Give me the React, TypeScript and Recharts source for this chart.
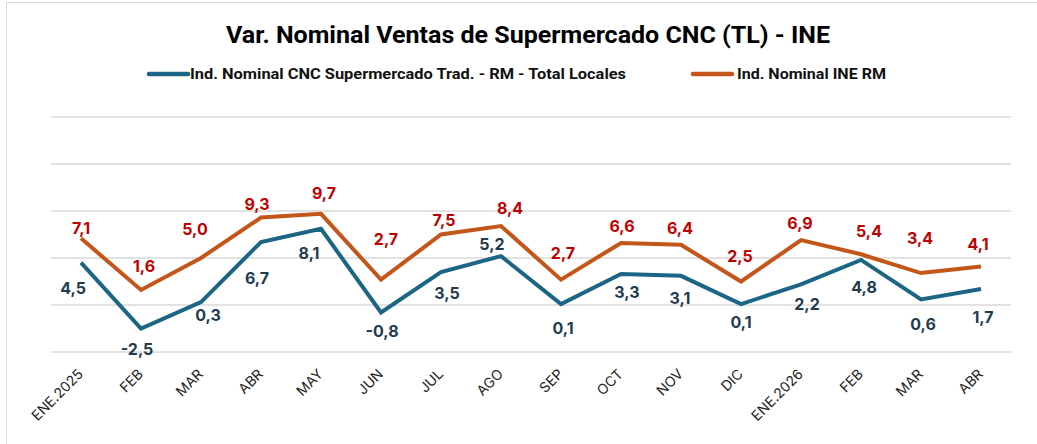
import { LineChart, Line, XAxis, YAxis, CartesianGrid, LabelList } from "recharts";

const months = ["ENE.2025", "FEB", "MAR", "ABR", "MAY", "JUN", "JUL", "AGO", "SEP", "OCT", "NOV", "DIC", "ENE.2026", "FEB", "MAR", "ABR"];
const cncValues = [4.5, -2.5, 0.3, 6.7, 8.1, -0.8, 3.5, 5.2, 0.1, 3.3, 3.1, 0.1, 2.2, 4.8, 0.6, 1.7];
const ineValues = [7.1, 1.6, 5.0, 9.3, 9.7, 2.7, 7.5, 8.4, 2.7, 6.6, 6.4, 2.5, 6.9, 5.4, 3.4, 4.1];
const yTicks = [-5, 0, 5, 10, 15, 20];

const CNC_NAME = "Ind. Nominal CNC Supermercado Trad. - RM - Total Locales";
const INE_NAME = "Ind. Nominal INE RM";

// label nudges (dx, dy from the point), matching the hand-placed labels
const cncNudge = [[-8, 25], [-4, 20], [7, 13], [-4, 36], [-12, 24], [1, 18], [6, 21], [-9, -12], [2, 24], [6, 18], [-1, 22], [0, 18], [6, 20], [3, 27], [2, 25], [2, 28]];
const ineNudge = [[0, -10], [3, -24], [-6, -29], [-4, -14], [3, -21], [5, -41], [3, -15], [9, -18], [2, -27], [1, -17], [-1, -17], [-1, -26], [-1, -17], [8, -23], [-1, -35], [-3, -22]];

const data = months.map((m, i) => ({ month: m, cnc: cncValues[i], ine: ineValues[i] }));

const BLUE = "#1c6585";
const ORANGE = "#c4561a";
const FONT = "Inter, 'Noto Sans', sans-serif";

const fmt = (v: number) => v.toFixed(1).replace(".", ",");

function makeLabel(nudge: number[][], color: string) {
  return (props: any) => {
    const { x, y, value, index } = props;
    const [dx, dy] = nudge[index] || [0, 0];
    return (
      <text x={x + dx} y={y + dy} textAnchor="middle" dominantBaseline="central" fill={color} fontSize={16} fontWeight={700} fontFamily={FONT}>
        {fmt(Number(value))}
      </text>
    );
  };
}

function MonthTick({ x, y, payload }: any) {
  return (
    <text transform={`translate(${x + 3},${y + 15}) rotate(-45)`} textAnchor="end" fill="#222" fontSize={14} fontFamily={FONT}>
      {payload.value}
    </text>
  );
}

function LegendRow() {
  return (
    <svg width={1037} height={30} style={{ position: "absolute", left: 0, top: 61 }}>
      <line x1={149} x2={188} y1={13} y2={13} stroke={BLUE} strokeWidth={4.5} strokeLinecap="round" />
      <text x={190} y={18} fontSize={15} fontWeight={700} fontFamily="Roboto, sans-serif" fill="#111" textLength={436} lengthAdjust="spacingAndGlyphs">
        {CNC_NAME}
      </text>
      <line x1={693} x2={732} y1={13} y2={13} stroke={ORANGE} strokeWidth={4.5} strokeLinecap="round" />
      <text x={737} y={18} fontSize={15} fontWeight={700} fontFamily="Roboto, sans-serif" fill="#111" textLength={149} lengthAdjust="spacingAndGlyphs">
        {INE_NAME}
      </text>
    </svg>
  );
}

export default function App() {
  return (
    <div style={{ position: "absolute", left: 0, top: 0, width: 1037, height: 444, background: "#fff", overflow: "hidden" }}>
      <div style={{ position: "absolute", left: 6, top: 2, width: 1100, height: 500, borderLeft: "1.5px solid #d9d9d9", borderTop: "1.5px solid #d9d9d9" }} />
      <svg width={1037} height={60} style={{ position: "absolute", left: 0, top: 0 }}>
        <text x={226} y={43} fontSize={24} fontWeight={700} fontFamily="Roboto, sans-serif" fill="#000" textLength={604} lengthAdjust="spacingAndGlyphs">
          Var. Nominal Ventas de Supermercado CNC (TL) - INE
        </text>
      </svg>
      <LegendRow />
      <LineChart width={1037} height={444} data={data} margin={{ top: 117, right: 26, bottom: 32, left: 51 }} style={{ position: "absolute", left: 0, top: 0 }}>
        <CartesianGrid vertical={false} stroke="#d9d9d9" strokeWidth={1.5} />
        <XAxis dataKey="month" axisLine={false} tickLine={false} interval={0} height={60} padding={{ left: 30, right: 30 }} tick={<MonthTick />} />
        <YAxis hide domain={[-5, 20]} ticks={yTicks} />
        <Line type="linear" dataKey="cnc" name={CNC_NAME} stroke={BLUE} strokeWidth={4} dot={false} isAnimationActive={false}>
          <LabelList dataKey="cnc" content={makeLabel(cncNudge, "#1f3b50")} />
        </Line>
        <Line type="linear" dataKey="ine" name={INE_NAME} stroke={ORANGE} strokeWidth={4} dot={false} isAnimationActive={false}>
          <LabelList dataKey="ine" content={makeLabel(ineNudge, "#c00000")} />
        </Line>
      </LineChart>
    </div>
  );
}
